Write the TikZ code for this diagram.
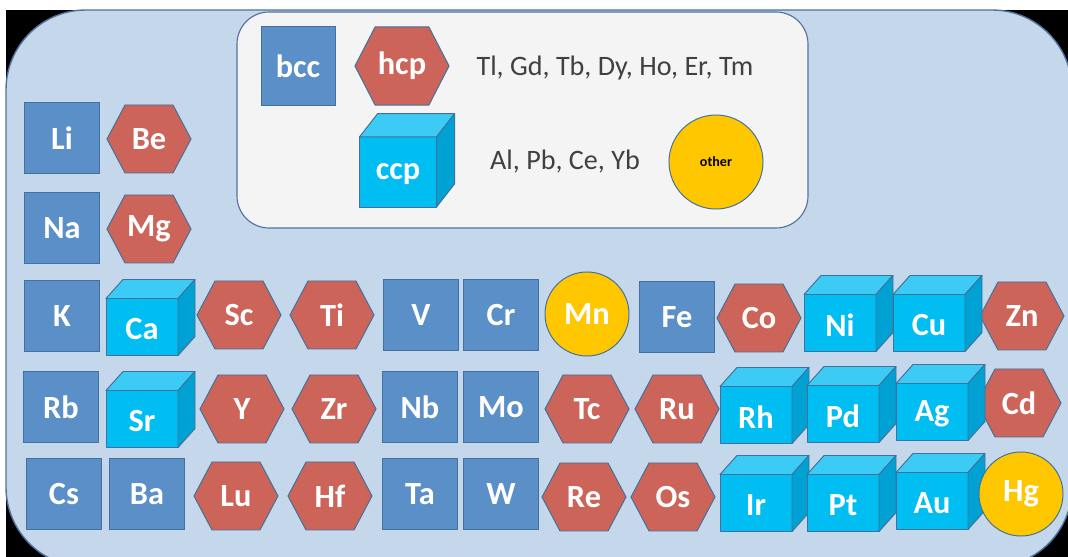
\documentclass[tikz,border=0pt]{standalone}
\usepackage{fontspec}
\setmainfont{Carlito}
\definecolor{bgblue}{HTML}{C5D8EB}
\definecolor{rimc}{HTML}{4F73A0}
\definecolor{legc}{HTML}{F4F4F4}
\definecolor{bordc}{HTML}{41719C}
\definecolor{sqc}{HTML}{5B8FC7}
\definecolor{hexc}{HTML}{CD645A}
\definecolor{cubefront}{HTML}{00BDF2}
\definecolor{cubetop}{HTML}{3CCBF4}
\definecolor{cuberight}{HTML}{00A2D3}
\definecolor{circc}{HTML}{FFC700}
\definecolor{legtxtc}{HTML}{404040}
\newcommand{\hexel}[5][]{%
  \begin{scope}[shift={(#3,#4)},#1]
    \filldraw[hexst] (-42,0) -- (-24,-34) -- (24,-34) -- (42,0) -- (24,34) -- (-24,34) -- cycle;
  \end{scope}
  \node[lbl] (#2) at (#3,#4) {#5};}
\newcommand{\cubeel}[5][]{%
  \begin{scope}[shift={(#3,#4)},#1]
    \filldraw[cubest, fill=cubefront] (-36,-28.5) rectangle (36,28.5);
    \filldraw[cubest, fill=cubetop] (-36,-28.5) -- (-19,-47.5) -- (53,-47.5) -- (36,-28.5) -- cycle;
    \filldraw[cubest, fill=cuberight] (36,-28.5) -- (53,-47.5) -- (53,9.5) -- (36,28.5) -- cycle;
  \end{scope}
  \node[lbl] (#2) at (#3,#4+2) {#5};}
\begin{document}
\begin{tikzpicture}[x=0.025cm,y=-0.025cm,
  lbl/.style={text=white, font=\fontsize{23}{26}\selectfont\bfseries, inner sep=0pt},
  sq/.style={lbl, draw=bordc, line width=0.7pt, fill=sqc, minimum width=18.75mm, minimum height=17.75mm},
  hexst/.style={draw=bordc, line width=0.7pt, fill=hexc, line join=miter},
  cubest/.style={draw=bordc, line width=0.7pt, line join=round},
  circ/.style={lbl, circle, draw=bordc, line width=0.7pt, fill=circc, minimum size=21mm},
  legtxt/.style={text=legtxtc, font=\fontsize{20}{24}\selectfont, inner sep=0pt}]
\useasboundingbox (0,0) rectangle (1068,557);
\fill[white] (0,0) rectangle (1068,557);
\begin{scope}
  \clip (0,0) rectangle (1068,557);
  \fill[black] (6,10) rectangle (1068,557);
  \filldraw[fill=bgblue, draw=rimc, line width=1pt, rounded corners=20mm] (6,10) rectangle (1072,567);
\end{scope}
% legend
\filldraw[fill=legc, draw=rimc, line width=0.8pt, rounded corners=8mm] (237,12) rectangle (808,228);
\node[sq, minimum width=18.5mm, minimum height=19.5mm] (bcc) at (298,66) {bcc};
\hexel[xscale=1.12,yscale=1.15]{hcp}{402}{66}{hcp}
\node[legtxt] (t1) at (615,68) {Tl, Gd, Tb, Dy, Ho, Er, Tm};
\cubeel[xscale=1.07,yscale=1.23]{ccp}{398}{172}{ccp}
\node[legtxt] (t2) at (565,162) {Al, Pb, Ce, Yb};
\node[circ, minimum size=23.5mm, text=black, font=\fontsize{10}{12}\selectfont\bfseries] (other) at (716,162) {other};
% squares
\node[sq] (Li) at (62,138) {Li};
\node[sq] (Na) at (62,228) {Na};
\node[sq] (K) at (62,316) {K};
\node[sq] (V) at (421,315) {V};
\node[sq] (Cr) at (501,315) {Cr};
\node[sq] (Fe) at (677,317) {Fe};
\node[sq] (Rb) at (61,407) {Rb};
\node[sq] (Nb) at (420,407) {Nb};
\node[sq] (Mo) at (501,407) {Mo};
\node[sq] (Cs) at (64,494) {Cs};
\node[sq] (Ba) at (147,494) {Ba};
\node[sq] (Ta) at (420,494) {Ta};
\node[sq] (W) at (501,494) {W};
% hexagons
\hexel{Be}{149}{139}{Be}
\hexel{Mg}{149}{229}{Mg}
\hexel{Sc}{239}{315}{Sc}
\hexel{Ti}{332}{315}{Ti}
\hexel{Co}{759}{318}{Co}
\hexel{Zn}{1022}{316}{Zn}
\hexel{Y}{242}{409}{Y}
\hexel{Zr}{334}{409}{Zr}
\hexel{Tc}{587}{409}{Tc}
\hexel{Ru}{677}{409}{Ru}
\hexel{Cd}{1019}{403}{Cd}
\hexel{Lu}{236}{496}{Lu}
\hexel{Hf}{330}{496}{Hf}
\hexel{Re}{584}{497}{Re}
\hexel{Os}{673}{497}{Os}
% cubes
\cubeel{Ca}{142}{327}{Ca}
\cubeel{Sr}{142}{419}{Sr}
\cubeel{Ni}{840}{323}{Ni}
\cubeel{Cu}{929}{323}{Cu}
\cubeel{Rh}{756}{415}{Rh}
\cubeel{Pd}{843}{414}{Pd}
\cubeel{Ag}{932}{412}{Ag}
\cubeel{Ir}{756}{503}{Ir}
\cubeel{Pt}{843}{503}{Pt}
\cubeel{Au}{932}{501}{Au}
% circles
\node[circ] (Mn) at (587,314) {Mn};
\node[circ] (Hg) at (1021,494) {Hg};
\end{tikzpicture}
\end{document}
